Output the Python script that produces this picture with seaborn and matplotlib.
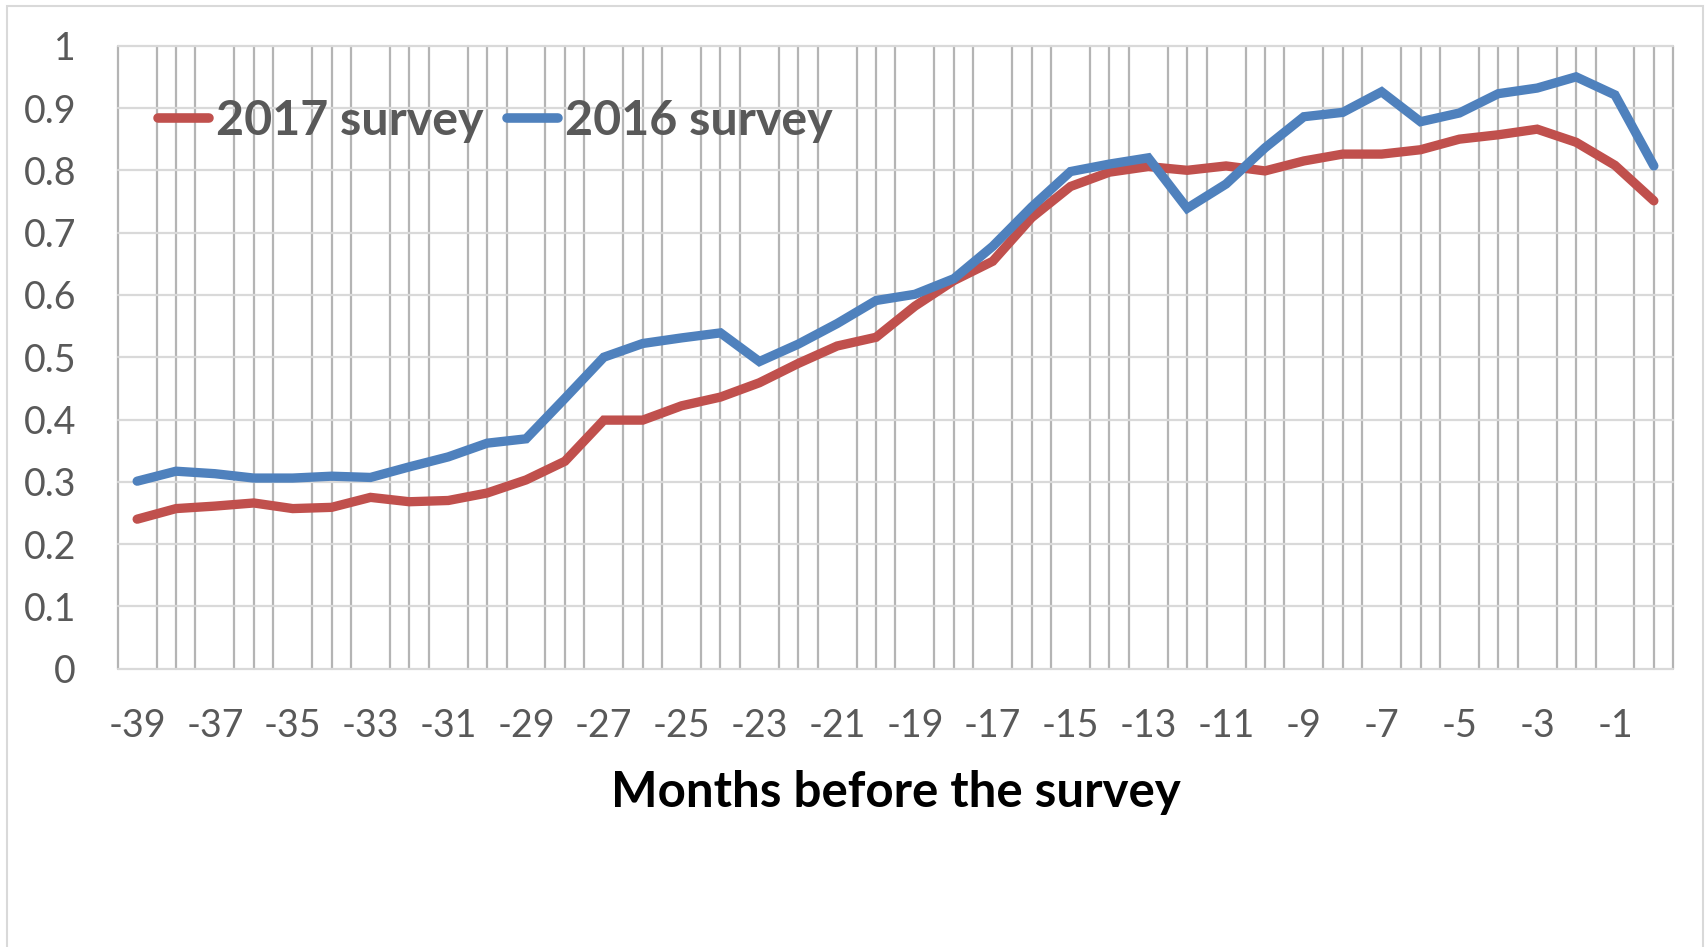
import numpy as np
import pandas as pd
import matplotlib
matplotlib.use("Agg")
import matplotlib.pyplot as plt
from matplotlib.lines import Line2D
from matplotlib.patches import Rectangle
import seaborn as sns

# Months before the survey and the share for each survey wave
months = list(range(-39, 1))
survey_2017 = [0.240, 0.257, 0.261, 0.266, 0.257, 0.259, 0.275, 0.268, 0.270, 0.282,
               0.303, 0.333, 0.399, 0.399, 0.422, 0.436, 0.459, 0.490, 0.518, 0.532,
               0.582, 0.623, 0.654, 0.724, 0.774, 0.797, 0.806, 0.800, 0.807, 0.799,
               0.815, 0.826, 0.826, 0.833, 0.850, 0.857, 0.866, 0.845, 0.808, 0.751]
survey_2016 = [0.301, 0.317, 0.313, 0.306, 0.306, 0.309, 0.307, 0.324, 0.340, 0.362,
               0.369, 0.434, 0.500, 0.522, 0.531, 0.539, 0.493, 0.521, 0.554, 0.591,
               0.601, 0.626, 0.678, 0.741, 0.798, 0.810, 0.820, 0.739, 0.778, 0.836,
               0.886, 0.893, 0.926, 0.878, 0.892, 0.923, 0.932, 0.950, 0.921, 0.807]
series_names = ["2017 survey", "2016 survey"]
series_colors = ["#C0504D", "#4F81BD"]
x_tick_values = list(range(-39, 0, 2))
y_tick_values = [0, 0.1, 0.2, 0.3, 0.4, 0.5, 0.6, 0.7, 0.8, 0.9, 1.0]
y_tick_labels = ["0", "0.1", "0.2", "0.3", "0.4", "0.5", "0.6", "0.7", "0.8", "0.9", "1"]
x_title = "Months before the survey"

df = pd.DataFrame({
    "month": months * 2,
    "value": survey_2017 + survey_2016,
    "survey": [series_names[0]] * len(months) + [series_names[1]] * len(months),
})

sns.set_style("white")
plt.rcParams["font.family"] = ["Lato", "DejaVu Sans"]

W, H = 1707, 947
fig = plt.figure(figsize=(W / 100, H / 100), dpi=100)
ax = fig.add_axes([117.7 / W, 1 - 668.7 / H, (1673.3 - 117.7) / W, (668.7 - 45.7) / H])

palette = dict(zip(series_names, series_colors))
sns.lineplot(data=df, x="month", y="value", hue="survey", hue_order=series_names,
             palette=palette, linewidth=6.7, ax=ax, legend=False)
for ln in ax.get_lines():
    ln.set_solid_capstyle("round")
    ln.set_solid_joinstyle("miter")

ax.set_xlim(-39.5, 0.5)
ax.set_ylim(0, 1)

# vertical grid every half month, horizontal grid every 0.1
ax.set_xticks(x_tick_values)
ax.set_xticklabels([str(v) for v in x_tick_values])
ax.set_xticks(np.arange(-39.5, 0.51, 0.5), minor=True)
ax.set_yticks(y_tick_values)
ax.set_yticklabels(y_tick_labels)
ax.grid(False)
ax.grid(which="minor", axis="x", color="#b4b4b4", linewidth=1.6)
ax.grid(which="major", axis="y", color="#d9d9d9", linewidth=1.6)
for tk in ax.xaxis.get_minor_ticks() + ax.yaxis.get_major_ticks():
    tk.gridline.set_clip_on(False)
ax.set_axisbelow(True)
for s in ax.spines.values():
    s.set_visible(False)

ax.tick_params(axis="both", which="both", length=0)
ax.tick_params(axis="y", labelsize=27, labelcolor="#595959", pad=30)
ax.tick_params(axis="x", labelsize=27, labelcolor="#595959", pad=28)
ax.set_xlabel("")
ax.set_ylabel("")

fig.text(895.5 / W, 1 - 807.3 / H, x_title, ha="center", va="baseline",
         fontsize=35.5, fontweight="bold", color="black")

handles = [Line2D([0], [0], color=c, lw=6.9, solid_capstyle="round") for c in series_colors]
leg = fig.legend(handles, series_names, loc="center left",
                 bbox_to_anchor=(158 / W, 1 - 121 / H), bbox_transform=fig.transFigure,
                 ncol=2, frameon=False, handlelength=1.05, handletextpad=0.14,
                 columnspacing=0.5, borderpad=0, borderaxespad=0,
                 prop={"family": ["Lato", "DejaVu Sans"], "weight": "bold", "size": 34.8})
for t in leg.get_texts():
    t.set_color("#595959")

# chart-area border
fig.patches.append(Rectangle((6.5 / W, -0.02), (1703 - 6.5) / W, 1 - 6.3 / H + 0.02,
                             transform=fig.transFigure, fill=False,
                             edgecolor="#d9d9d9", linewidth=1.5))

fig.savefig("out.png", dpi=100)
